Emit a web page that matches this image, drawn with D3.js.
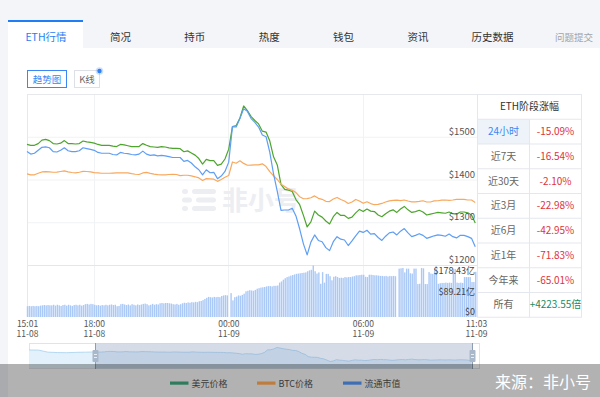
<!DOCTYPE html>
<html>
<head>
<meta charset="utf-8">
<script src="https://cdn.jsdelivr.net/npm/d3@7/dist/d3.min.js"></script>
<style>
body { margin: 0; background: #f3f5f9; }
svg { display: block; font-family: "Noto Sans CJK SC", "Noto Sans", sans-serif; }
</style>
</head>
<body>
<div id="chart"></div>
<script>
var W = 600, H = 397;

var tabs = ["ETH行情", "简况", "持币", "热度", "钱包", "资讯", "历史数据"];
var periods = ["24小时", "近7天", "近30天", "近3月", "近6月", "近1年", "今年来", "所有"];
var changes = ["-15.09%", "-16.54%", "-2.10%", "-22.98%", "-42.95%", "-71.83%", "-65.01%", "+4223.55倍"];
var legendNames = ["美元价格", "BTC价格", "流通市值"];
var priceTicks = [1200, 1300, 1400, 1500];
var volTicks = [0, 89.21, 178.43];
var tickLabels = ["2022-11-08 15:01", "2022-11-08 18:00", "2022-11-09 00:00", "2022-11-09 06:00", "2022-11-09 11:03"];

// 10 minute points from 11-08 15:01
var usdPrice = [1482,1480,1480,1484,1492,1494,1491,1484,1483,1485,
  1491,1484,1484,1483,1484,1490,1488,1487,1485,1482,
  1480,1480,1480,1478,1477,1482,1481,1479,1477,1477,
  1477,1484,1480,1477,1476,1475,1477,1476,1474,1473,
  1473,1472,1465,1467,1462,1457,1449,1436,1447,1444,
  1444,1433,1436,1448,1471,1524,1526,1544,1572,1561,
  1547,1538,1530,1513,1511,1490,1453,1434,1388,1377,
  1375,1372,1353,1341,1316,1289,1301,1326,1317,1312,
  1303,1296,1313,1323,1316,1316,1309,1312,1322,1330,
  1325,1331,1326,1325,1317,1313,1320,1326,1329,1323,
  1331,1337,1329,1323,1325,1328,1324,1317,1319,1321,
  1323,1322,1321,1324,1320,1319,1324,1324,1322,1317,
  1298];

var btcPrice = [0.07639,0.07632,0.07633,0.07644,0.07653,0.07655,0.07653,0.07651,0.07652,0.07656,
  0.07660,0.07654,0.07649,0.07647,0.07651,0.07657,0.07656,0.07654,0.07648,0.07646,
  0.07644,0.07644,0.07644,0.07645,0.07646,0.07646,0.07647,0.07646,0.07641,0.07637,
  0.07635,0.07646,0.07650,0.07643,0.07638,0.07634,0.07632,0.07632,0.07635,0.07637,
  0.07635,0.07627,0.07630,0.07630,0.07625,0.07619,0.07611,0.07593,0.07606,0.07605,
  0.07602,0.07587,0.07600,0.07616,0.07628,0.07723,0.07714,0.07731,0.07713,0.07700,
  0.07701,0.07702,0.07703,0.07710,0.07691,0.07656,0.07626,0.07600,0.07567,0.07550,
  0.07534,0.07524,0.07508,0.07479,0.07465,0.07466,0.07472,0.07485,0.07468,0.07461,
  0.07447,0.07445,0.07463,0.07474,0.07460,0.07449,0.07432,0.07442,0.07460,0.07449,
  0.07433,0.07444,0.07431,0.07423,0.07425,0.07432,0.07442,0.07450,0.07454,0.07455,
  0.07452,0.07456,0.07449,0.07443,0.07443,0.07446,0.07451,0.07442,0.07442,0.07450,
  0.07451,0.07455,0.07456,0.07454,0.07456,0.07460,0.07461,0.07461,0.07456,0.07456,
  0.07439];

// 亿 USD
var marketCap = [1816,1810,1812,1819,1826,1827,1825,1816,1815,1819,
  1825,1818,1816,1816,1818,1825,1823,1821,1819,1814,
  1812,1812,1812,1809,1808,1814,1812,1811,1809,1808,
  1810,1817,1810,1807,1808,1806,1807,1806,1804,1802,
  1802,1802,1793,1795,1789,1780,1773,1761,1773,1766,
  1767,1752,1758,1769,1791,1875,1874,1894,1917,1911,
  1894,1885,1874,1855,1851,1814,1763,1722,1677,1678,
  1678,1682,1664,1633,1598,1572,1602,1619,1606,1603,
  1589,1582,1603,1615,1609,1607,1594,1605,1617,1628,
  1625,1630,1621,1622,1613,1606,1616,1624,1626,1619,
  1628,1634,1624,1615,1618,1622,1618,1611,1614,1617,
  1619,1618,1616,1621,1615,1612,1618,1618,1615,1611,
  1591];

// 5 minute bars, 亿 USD
var volume = [37,38,37,38,37,38,37,39,40,41,40,41,40,40,42,39,42,40,38,41,
  42,39,42,40,38,41,42,40,42,39,41,44,45,43,45,44,42,40,41,39,
  41,40,42,40,42,43,41,42,37,38,44,45,43,41,43,40,44,42,40,43,
  41,43,45,46,44,40,42,45,42,44,43,47,48,47,48,48,47,46,44,43,
  45,42,44,47,49,48,50,49,51,50,52,51,54,55,58,62,66,69,68,67,
  69,68,69,68,72,74,75,74,0,82,57,68,70,74,73,76,80,88,90,92,
  91,90,93,97,99,101,102,103,105,106,106,105,107,107,108,118,122,128,133,137,
  139,142,144,146,148,149,150,151,152,153,157,160,162,177,157,149,153,114,154,118,
  148,148,140,126,138,140,137,134,135,134,137,136,137,137,139,140,143,143,144,145,
  145,138,137,145,145,144,143,143,142,141,141,140,141,139,141,140,141,140,0,166,
  167,168,153,166,166,150,149,166,166,113,114,168,167,113,113,154,149,148,165,166,
  114,116,117,117,118,117,118,117,166,165,118,117,118,117,137,137,137,137,120,120,
  155];

// 30 minute points from 11-08 11:31, shown only in the zoom slider
var earlyPrice = [1522, 1520, 1478, 1470, 1467, 1474, 1478];

var parseT = d3.timeParse("%Y-%m-%d %H:%M");
var t0 = parseT(tickLabels[0]), t1 = parseT(tickLabels[4]);
var tickTimes = tickLabels.map(parseT);
var lineTimes = usdPrice.map(function(d, i) { return d3.timeMinute.offset(t0, i * 10); });
var volTimes = volume.map(function(d, i) { return d3.timeMinute.offset(t0, i * 5); });
var earlyTimes = earlyPrice.map(function(d, i) { return d3.timeMinute.offset(t0, -210 + i * 30); });

var GREEN = "#4da52e", ORANGE = "#f8a95e", BLUE = "#5e9ef5";
var FONT = "'Noto Sans CJK SC', 'Noto Sans', sans-serif";

var x = d3.scaleTime().domain([t0, t1]).range([27, 476]);
var yPrice = d3.scaleLinear().domain([1200, 1600]).range([265, 94]);
var yBtc = d3.scaleLinear().domain([0.0700, 0.0820]).range([265, 94]);
var yCap = d3.scaleLinear().domain([1548, 1952]).range([265, 94]);
var yVol = d3.scaleLinear().domain([0, 178.43]).range([317, 265]);

var svg = d3.select("#chart").append("svg")
  .attr("width", W)
  .attr("height", H);

// page background + white panel
svg.append("rect").attr("width", W).attr("height", H).attr("fill", "#f3f5f9");
svg.append("rect").attr("x", 8).attr("y", 48).attr("width", W - 8).attr("height", H - 48).attr("fill", "#fff");

// tabs
svg.append("rect").attr("x", 8).attr("y", 21).attr("width", 75).attr("height", 27).attr("fill", "#fff");
svg.append("rect").attr("x", 8).attr("y", 20).attr("width", 75).attr("height", 2).attr("fill", "#1f7ef5");
svg.selectAll("text.tab").data(tabs).join("text")
  .attr("class", "tab")
  .attr("x", function(d, i) { return 46 + 74.4 * i; })
  .attr("y", 41)
  .attr("text-anchor", "middle")
  .attr("font-size", "10.5px")
  .attr("fill", function(d, i) { return i == 0 ? "#1f7ef5" : "#333"; })
  .text(function(d) { return d; });
svg.append("text").attr("x", 574).attr("y", 41).attr("text-anchor", "middle")
  .attr("font-size", "9.5px").attr("fill", "#a0a4ab").text("问题提交");

// trend / kline buttons
svg.append("rect").attr("x", 27.5).attr("y", 70.5).attr("width", 39).attr("height", 17)
  .attr("fill", "#fff").attr("stroke", "#3b87f5");
svg.append("text").attr("x", 47).attr("y", 82.5).attr("text-anchor", "middle")
  .attr("font-size", "9.5px").attr("fill", "#3b87f5").text("趋势图");
svg.append("rect").attr("x", 74.5).attr("y", 70.5).attr("width", 25).attr("height", 17)
  .attr("fill", "#fff").attr("stroke", "#dde0e6");
svg.append("text").attr("x", 87).attr("y", 82.5).attr("text-anchor", "middle")
  .attr("font-size", "9.5px").attr("fill", "#666").text("K线");
svg.append("circle").attr("cx", 99.5).attr("cy", 71).attr("r", 3.8).attr("fill", "rgba(59,135,245,0.25)");
svg.append("circle").attr("cx", 99.5).attr("cy", 71).attr("r", 2.2).attr("fill", "#2f7ff5");

// grid
var grid = svg.append("g");
grid.selectAll("line.h").data(priceTicks.slice(1)).join("line")
  .attr("x1", 27).attr("x2", 477)
  .attr("y1", function(d) { return yPrice(d) + 0.5; }).attr("y2", function(d) { return yPrice(d) + 0.5; })
  .attr("stroke", "#f1f2f4");
grid.selectAll("line.v").data(tickTimes.slice(1, 4)).join("line")
  .attr("x1", function(d) { return Math.round(x(d)) + 0.5; }).attr("x2", function(d) { return Math.round(x(d)) + 0.5; })
  .attr("y1", 94).attr("y2", 317)
  .attr("stroke", "#f1f2f4");
grid.append("line").attr("x1", 27).attr("x2", 477).attr("y1", 265.5).attr("y2", 265.5).attr("stroke", "#e3e6eb");
grid.append("line").attr("x1", 27).attr("x2", 477).attr("y1", 94.5).attr("y2", 94.5).attr("stroke", "#e6e8ec");
grid.append("line").attr("x1", 27.5).attr("x2", 27.5).attr("y1", 94).attr("y2", 317).attr("stroke", "#e6e8ec");

// watermark
var wm = svg.append("g").attr("fill", "#eceef2");
[[182, 189, 6, 192, 189, 24], [182, 197.5, 10, 196, 197.5, 20], [182, 206, 6, 192, 206, 24]].forEach(function(r) {
  wm.append("rect").attr("x", r[0]).attr("y", r[1]).attr("width", r[2]).attr("height", 5).attr("rx", 2.5);
  wm.append("rect").attr("x", r[3]).attr("y", r[4]).attr("width", r[5]).attr("height", 5).attr("rx", 2.5);
});
wm.append("text").attr("x", 222).attr("y", 210).attr("font-size", "26px").attr("font-weight", "bold").text("非小号");

// volume bars
svg.append("g").selectAll("rect").data(volume).join("rect")
  .attr("x", function(d, i) { return x(volTimes[i]) - 0.2; })
  .attr("y", function(d) { return yVol(d); })
  .attr("width", 1.4)
  .attr("height", function(d) { return 317 - yVol(d); })
  .attr("fill", "#abc9f6");

// lines
function drawLine(values, yScale, color) {
  var line = d3.line()
    .x(function(d, i) { return x(lineTimes[i]); })
    .y(function(d) { return yScale(d); });
  svg.append("path").datum(values)
    .attr("d", line)
    .attr("fill", "none")
    .attr("stroke", color)
    .attr("stroke-width", 1.2)
    .attr("stroke-linejoin", "round");
}
drawLine(usdPrice, yPrice, GREEN);
drawLine(btcPrice, yBtc, ORANGE);
drawLine(marketCap, yCap, BLUE);

// price axis labels
var yAxis = svg.append("g").attr("transform", "translate(475,0)")
  .call(d3.axisLeft(yPrice).tickValues(priceTicks).tickSize(0).tickPadding(0)
    .tickFormat(function(d) { return "$" + d; }));
yAxis.select(".domain").remove();
yAxis.selectAll("text").attr("dy", -2.5).attr("font-size", "9.5px").attr("fill", "#555").attr("font-family", FONT);

// volume axis labels
var vAxis = svg.append("g").attr("transform", "translate(475,0)")
  .call(d3.axisLeft(yVol).tickValues(volTicks).tickSize(0).tickPadding(0)
    .tickFormat(function(d) { return d == 0 ? "$0" : "$" + d + "亿"; }));
vAxis.select(".domain").remove();
vAxis.selectAll("text")
  .attr("dy", function(d, i) { return [-3, 3.5, 8][i]; })
  .attr("font-size", "9px").attr("fill", "#444").attr("font-family", FONT);

// time axis
var fmtHM = d3.timeFormat("%H:%M"), fmtMD = d3.timeFormat("%m-%d");
var xAxis = svg.append("g").attr("transform", "translate(0,317)")
  .call(d3.axisBottom(x).tickValues(tickTimes).tickSize(0).tickPadding(0));
xAxis.select(".domain").remove();
xAxis.selectAll("text")
  .attr("dy", null).attr("y", null)
  .attr("font-size", "8.5px").attr("fill", "#555").attr("font-family", FONT)
  .text(null)
  .each(function(d) {
    var t = d3.select(this);
    t.append("tspan").attr("x", 0).attr("y", 10).text(fmtHM(d));
    t.append("tspan").attr("x", 0).attr("y", 19.5).text(fmtMD(d));
  });

// change table
var tbl = svg.append("g").attr("font-size", "10px");
var rowH = 24.75, tx0 = 477.5, tx1 = 529.5, tx2 = 581.5, ty0 = 94.5;
tbl.append("rect").attr("x", tx0).attr("y", ty0 + rowH).attr("width", tx1 - tx0).attr("height", rowH).attr("fill", "#eef3fa");
tbl.append("rect").attr("x", tx0).attr("y", ty0).attr("width", tx2 - tx0).attr("height", rowH * 9)
  .attr("fill", "none").attr("stroke", "#e4e7ed");
tbl.selectAll("line.r").data(d3.range(1, 9)).join("line")
  .attr("x1", tx0).attr("x2", tx2)
  .attr("y1", function(d) { return ty0 + d * rowH; }).attr("y2", function(d) { return ty0 + d * rowH; })
  .attr("stroke", "#e4e7ed");
tbl.append("line").attr("x1", tx1).attr("x2", tx1).attr("y1", ty0 + rowH).attr("y2", ty0 + rowH * 9).attr("stroke", "#e4e7ed");
tbl.append("text").attr("x", (tx0 + tx2) / 2).attr("y", ty0 + rowH / 2 + 3.5).attr("text-anchor", "middle")
  .attr("fill", "#333").text("ETH阶段涨幅");
tbl.selectAll("text.p").data(periods).join("text")
  .attr("x", (tx0 + tx1) / 2)
  .attr("y", function(d, i) { return ty0 + (i + 1.5) * rowH + 3.5; })
  .attr("text-anchor", "middle")
  .attr("fill", function(d, i) { return i == 0 ? "#3b87f5" : "#666"; })
  .text(function(d) { return d; });
tbl.selectAll("text.c").data(changes).join("text")
  .attr("x", (tx1 + tx2) / 2)
  .attr("y", function(d, i) { return ty0 + (i + 1.5) * rowH + 3.5; })
  .attr("text-anchor", "middle")
  .attr("fill", function(d) { return d[0] == "+" ? "#1b8a5a" : "#e0333c"; })
  .text(function(d) { return d; });

// zoom slider
var earlyStart = earlyTimes[0];
var sx = d3.scaleTime().domain([earlyStart, t1]).range([29.1, 472]);
var sy = d3.scaleLinear().domain([1158, 1663]).range([368, 343]);
var shadowPts = earlyPrice.map(function(d, i) { return [earlyTimes[i], d]; })
  .concat(usdPrice.map(function(d, i) { return [lineTimes[i], d]; }));
svg.append("rect").attr("x", 29.5).attr("y", 343.5).attr("width", 450).attr("height", 25)
  .attr("fill", "#fff").attr("stroke", "#dfe4eb");
svg.append("path").datum(shadowPts)
  .attr("d", d3.area().x(function(d) { return sx(d[0]); }).y0(368).y1(function(d) { return sy(d[1]); }))
  .attr("fill", "#e2f1fb");
svg.append("path").datum(shadowPts)
  .attr("d", d3.line().x(function(d) { return sx(d[0]); }).y(function(d) { return sy(d[1]); }))
  .attr("fill", "none").attr("stroke", "#a6d0ef").attr("stroke-width", 0.8);
svg.append("rect").attr("x", sx(t0)).attr("y", 343.5).attr("width", sx(t1) - sx(t0)).attr("height", 25)
  .attr("fill", "rgba(120,140,175,0.3)");
[t0, t1].forEach(function(t) {
  var hx = Math.round(sx(t)) + 0.5;
  svg.append("line").attr("x1", hx).attr("x2", hx).attr("y1", 343).attr("y2", 369).attr("stroke", "#8d9db5");
  svg.append("rect").attr("x", hx - 3).attr("y", 350).attr("width", 6).attr("height", 12).attr("rx", 1)
    .attr("fill", "#a9b7ca");
  svg.append("line").attr("x1", hx - 1.5).attr("x2", hx + 1.5).attr("y1", 354.5).attr("y2", 354.5).attr("stroke", "#e8edf3");
  svg.append("line").attr("x1", hx - 1.5).attr("x2", hx + 1.5).attr("y1", 357.5).attr("y2", 357.5).attr("stroke", "#e8edf3");
});

// source band
svg.append("rect").attr("x", 0).attr("y", 364).attr("width", W).attr("height", H - 364).attr("fill", "rgba(0,0,0,0.3)");

var legendColors = ["#2f7c5c", "#bf7d3d", "#3e6fb4"];
var legendX = [170, 257, 343];
var lg = svg.append("g").selectAll("g").data(legendNames).join("g")
  .attr("transform", function(d, i) { return "translate(" + legendX[i] + ",383)"; });
lg.append("rect").attr("x", 0).attr("y", -1.5).attr("width", 18.5).attr("height", 3.2)
  .attr("fill", function(d, i) { return legendColors[i]; });
lg.append("text").attr("x", 21.5).attr("y", 3.5).attr("font-size", "9px").attr("fill", "#3a3a3a")
  .text(function(d) { return d; });

svg.append("text").attr("x", 591).attr("y", 388).attr("text-anchor", "end")
  .attr("font-size", "16px").attr("fill", "#fff").text("来源：非小号");
</script>
</body>
</html>
